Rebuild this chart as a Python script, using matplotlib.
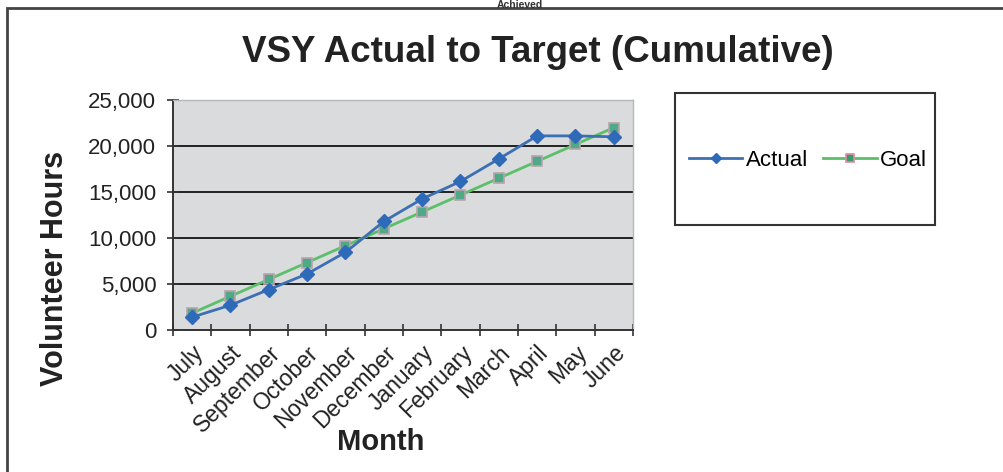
import matplotlib
matplotlib.use("Agg")
import matplotlib.pyplot as plt
from matplotlib.patches import Rectangle
import numpy as np

months = ["July", "August", "September", "October", "November", "December",
          "January", "February", "March", "April", "May", "June"]
actual = [1400, 2700, 4400, 6100, 8450, 11800, 14250, 16150, 18600, 21100, 21100, 21000]
goal = [1833, 3667, 5500, 7333, 9167, 11000, 12833, 14667, 16500, 18333, 20167, 22000]
yticks = [0, 5000, 10000, 15000, 20000, 25000]

plt.rcParams['font.family'] = ['Liberation Sans', 'DejaVu Sans']

W, H = 1004, 472
fig = plt.figure(figsize=(W / 100, H / 100), dpi=100)
fig.patch.set_facecolor('white')

# outer chart border
fig.add_artist(Rectangle((7 / W, -0.05), 1.1, (H - 8) / H + 0.05, transform=fig.transFigure,
                         fill=False, edgecolor='#444444', linewidth=2))
fig.text(520 / W, 1 - 0.5 / H, "Achieved", ha='center', va='top', fontsize=7.5,
         fontweight='bold', color='#333333')

ax = fig.add_axes([173 / W, (H - 330) / H, (633 - 173) / W, (330 - 100) / H])
ax.set_facecolor('#d9dbdd')
x = np.arange(len(months))

for yv in yticks[1:-1]:
    ax.axhline(yv, color='#222222', linewidth=1.4, zorder=1)

ax.plot(x, actual, color='#3d6fb3', linewidth=2, marker='D', markersize=7,
        markerfacecolor='#2f6ab8', markeredgecolor='#2f6ab8', label='Actual', zorder=3)
ax.plot(x, goal, color='#5cbf6a', linewidth=2, marker='s', markersize=7,
        markerfacecolor='#4fa986', markeredgecolor='#b9a3ae', markeredgewidth=1.2,
        label='Goal', zorder=2)

ax.set_xlim(-0.5, 11.5)
ax.set_ylim(0, 25000)
ax.set_yticks(yticks)
ax.set_yticklabels([f"{v:,}" for v in yticks], fontsize=16, color='#222222')
ax.set_xticks(x)
ax.set_xticklabels(months, rotation=45, ha='right', rotation_mode='anchor',
                   fontsize=16.5, color='#222222')
ax.set_xticks(np.arange(-0.5, 12, 1), minor=True)
ax.tick_params(axis='x', which='major', length=0, pad=8)
ax.tick_params(axis='x', which='minor', length=8, direction='inout', width=1.2, color='#333333')
ax.tick_params(axis='y', length=8, direction='inout', width=1.2, color='#333333', pad=8)

for s in ['top', 'right']:
    ax.spines[s].set_color('#b5b8bb')
    ax.spines[s].set_linewidth(1)
for s in ['left', 'bottom']:
    ax.spines[s].set_color('#333333')
    ax.spines[s].set_linewidth(1.4)

fig.text(55 / W, 1 - 268 / H, "Volunteer Hours", ha='center', va='center', rotation=90,
         fontsize=22, fontweight='bold', color='#222222')
fig.text(381 / W, 1 - 442 / H, "Month", ha='center', va='center', fontsize=21,
         fontweight='bold', color='#222222')

fig.text(538 / W, 1 - 52 / H, "VSY Actual to Target (Cumulative)", ha='center', va='center',
         fontsize=26.5, fontweight='bold', color='#222222')

# legend box
fig.add_artist(Rectangle((675 / W, 1 - 225 / H), 260 / W, 132 / H, transform=fig.transFigure,
                         fill=False, edgecolor='#333333', linewidth=1.5))
leg = fig.legend(loc='center', bbox_to_anchor=(808 / W, 1 - 160 / H), ncol=2, frameon=False,
                 fontsize=16, handlelength=2.4, handletextpad=0.15, columnspacing=0.7,
                 markerscale=0.8)
leg.legend_handles[1].set_markeredgecolor('#e08aa8')
leg.legend_handles[1].set_markerfacecolor('#3a9a6a')

fig.savefig("out.png", dpi=100)
